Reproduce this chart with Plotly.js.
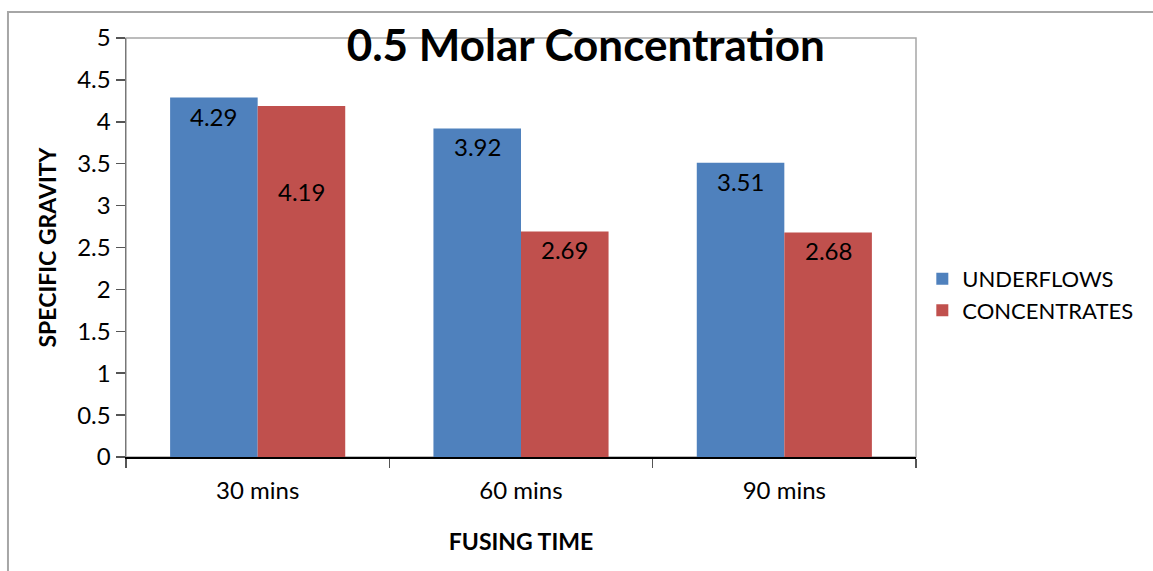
<!DOCTYPE html>
<html><head><meta charset="utf-8">
<script src="https://cdn.plot.ly/plotly-3.0.1.min.js"></script>
<style>html,body{margin:0;padding:0;background:#fff}#chart{width:1153px;height:571px}</style>
</head><body><div id="chart"></div>
<script>
const categories = ["30 mins", "60 mins", "90 mins"];
const underflows = [4.29, 3.92, 3.51];
const concentrates = [4.19, 2.69, 2.68];
const seriesNames = ["UNDERFLOWS", "CONCENTRATES"];
const yTicks = [0, 0.5, 1, 1.5, 2, 2.5, 3, 3.5, 4, 4.5, 5];

const FONT = "Lato, 'Open Sans', sans-serif";
const COLORS = ["#4F81BD", "#C0504D"];
// label style: pixel drop of each value label below its bar top, and bar half-offset
const LABEL_DROP = [[19, 18, 19], [86, 18, 18]];
const BAR_OFFSET = [-43.7, 43.7];

const series = [underflows, concentrates];
const data = series.map((vals, i) => ({
  type: "bar", name: seriesNames[i], x: categories, y: vals,
  marker: {color: COLORS[i]}, hoverinfo: "none"
}));

const annotations = [];
series.forEach((vals, i) => vals.forEach((v, j) => annotations.push({
  x: categories[j], y: v, xref: "x", yref: "y", text: v.toFixed(2), showarrow: false,
  xanchor: "center", yanchor: "middle", xshift: BAR_OFFSET[i], yshift: -LABEL_DROP[i][j],
  font: {family: FONT, size: 24, color: "#000"}
})));

const layout = {
  width: 1153, height: 571,
  margin: {l: 126, r: 237, t: 38, b: 114, pad: 0},
  paper_bgcolor: "#fff", plot_bgcolor: "#fff",
  font: {family: FONT, size: 24, color: "#000"},
  barmode: "group", bargap: 0.335, bargroupgap: 0,
  title: {text: "<b>0.5 Molar Concentration</b>", font: {family: FONT, size: 44, color: "#000"},
          xref: "paper", x: 0.582, xanchor: "center", yref: "paper", y: 0.983, yanchor: "middle"},
  showlegend: true,
  legend: {x: 1.008, xanchor: "left", y: 0.387, yanchor: "middle", font: {family: FONT, size: 22, color: "#000"},
           itemclick: false, tracegroupgap: 0, borderwidth: 0},
  xaxis: {type: "category", showline: true, linecolor: "#000", linewidth: 1.5, ticks: "outside", tickson: "boundaries",
          ticklen: 9, tickcolor: "#555", tickwidth: 1.5, showgrid: false, zeroline: false, ticklabelstandoff: 12,
          tickfont: {family: FONT, size: 24, color: "#000"},
          title: {text: "<b>FUSING TIME</b>", font: {family: FONT, size: 23, color: "#000"}, standoff: 30}, automargin: false},
  yaxis: {range: [0, 5], tickvals: yTicks, ticktext: yTicks.map(String), showline: true, linecolor: "#777", linewidth: 1.5,
          ticks: "outside", ticklen: 9, tickcolor: "#555", tickwidth: 1.5, showgrid: false, zeroline: false,
          tickfont: {family: FONT, size: 24, color: "#000"},
          title: {text: "<b>SPECIFIC GRAVITY</b>", font: {family: FONT, size: 23, color: "#000"}, standoff: 14}, automargin: false},
  annotations: annotations,
  shapes: [
    {type: "rect", xref: "paper", yref: "paper", x0: 0, x1: 1, y0: 0, y1: 1, line: {color: "#a6a6a6", width: 1.5}, layer: "below"},
    {type: "rect", xref: "paper", yref: "paper", x0: -0.1494, x1: 1.32, y0: -0.29, y1: 1.062, line: {color: "#a6a6a6", width: 2}, layer: "below"}
  ]
};
Plotly.newPlot("chart", data, layout, {displayModeBar: false, staticPlot: true});
</script></body></html>
